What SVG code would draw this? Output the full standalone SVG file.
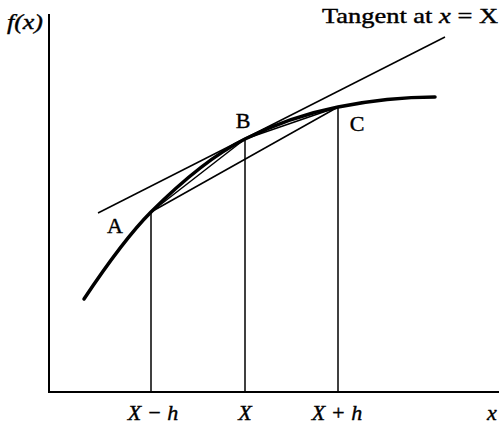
<svg xmlns="http://www.w3.org/2000/svg" width="499" height="428" viewBox="0 0 499 428">
<style>
.ax{stroke:#000;stroke-width:2;fill:none}
.ln{stroke:#000;stroke-width:1.5;fill:none}
.cv{stroke:#000;stroke-width:3.5;fill:none;stroke-linecap:round}
.t{font-family:"Liberation Serif",serif;fill:#000;stroke:#000;stroke-width:0.4}
.i{font-style:italic}
</style>
<rect width="499" height="428" fill="#fff"/>
<g id="connectors">
<path class="ax" d="M49,14 V392 H499"/>
<line class="ln" x1="151" y1="212" x2="151" y2="392"/>
<line class="ln" x1="245" y1="139" x2="245" y2="392"/>
<line class="ln" x1="338" y1="107" x2="338" y2="392"/>
<line class="ln" x1="98" y1="213" x2="445" y2="37"/>
<line class="ln" x1="151" y1="212" x2="338" y2="107"/>
<line class="ln" x1="151" y1="212" x2="245" y2="139"/>
<line class="ln" x1="245" y1="139" x2="338" y2="107"/>
</g>
<g id="curve">
<path class="cv" d="M84,299 C106.3,265.5 128.7,234.3 151,212 C182.3,180.7 213.7,154.7 245,139 C276,123.5 307,113.2 338,107 C370.3,100.5 402.7,97 435,97"/>
</g>
<g id="labels">
<text class="t i" x="7" y="29" font-size="22" textLength="36" lengthAdjust="spacingAndGlyphs">f(x)</text>
<text class="t" x="498" y="23" font-size="21" text-anchor="end" textLength="176" lengthAdjust="spacingAndGlyphs">Tangent at <tspan class="i">x</tspan> = X</text>
<text class="t" x="115" y="233" font-size="22" text-anchor="middle">A</text>
<text class="t" x="243" y="128" font-size="22" text-anchor="middle">B</text>
<text class="t" x="357" y="131" font-size="22" text-anchor="middle">C</text>
<text class="t i" x="153" y="420" font-size="22" text-anchor="middle">X − h</text>
<text class="t i" x="245" y="420" font-size="22" text-anchor="middle">X</text>
<text class="t i" x="337" y="420" font-size="22" text-anchor="middle">X + h</text>
<text class="t i" x="492" y="420" font-size="22" text-anchor="middle">x</text>
</g>
</svg>
